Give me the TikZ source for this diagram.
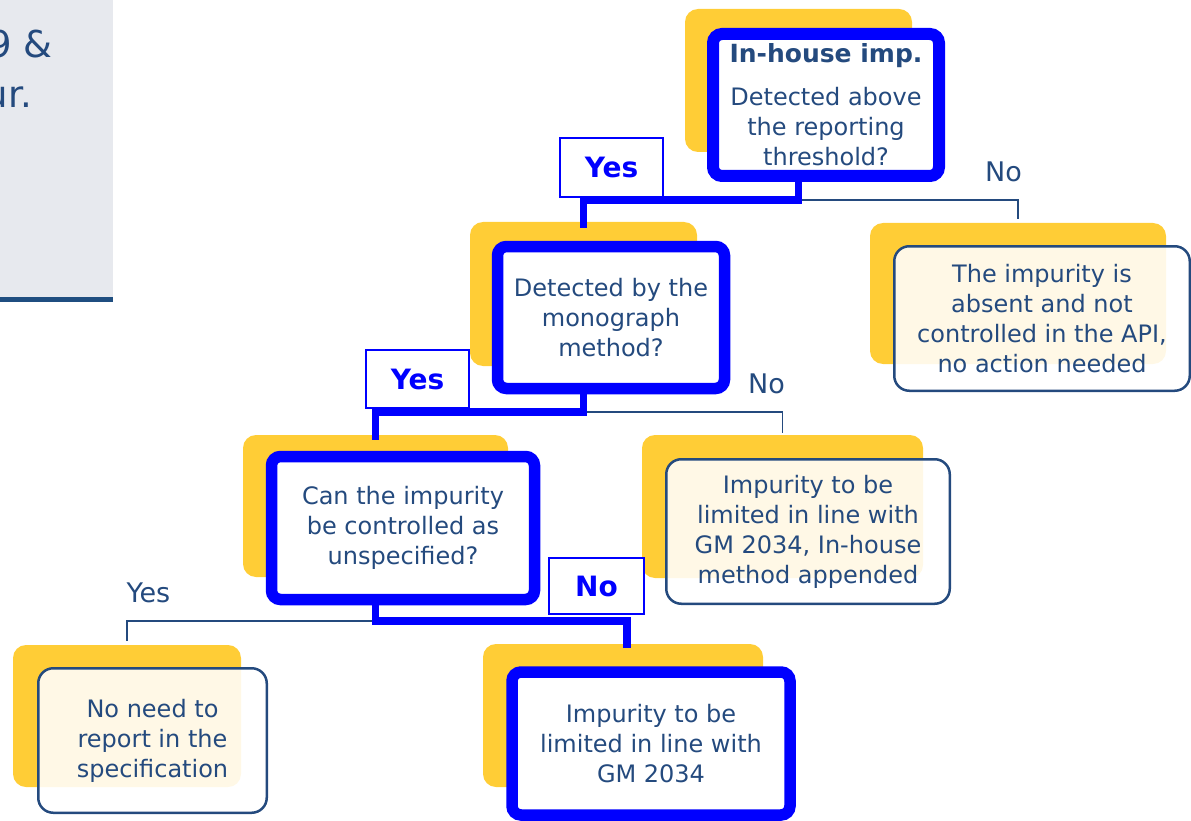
\documentclass[tikz,border=0pt]{standalone}
\usepackage{fontspec}
\setmainfont{DejaVu Sans}
\usetikzlibrary{calc}

\definecolor{ink}{RGB}{36,74,126}
\definecolor{hlblue}{RGB}{0,0,255}
\definecolor{gold}{RGB}{255,205,54}
\definecolor{panel}{RGB}{231,233,238}
\definecolor{rulecol}{RGB}{31,78,128}

\tikzset{
  back/.style={fill=gold, rounded corners=13pt, inner sep=0pt, outer sep=0pt},
  qbox/.style={draw=hlblue, line width=11.5pt, fill=white, rounded corners=9pt,
    inner sep=0pt, outer sep=0pt, align=center, text=ink,
    font=\fontsize{24}{30}\selectfont},
  abox/.style={draw=ink, line width=2.5pt, fill=white, fill opacity=0.88,
    text opacity=1, draw opacity=1, rounded corners=15pt, inner sep=0pt,
    outer sep=0pt, align=center, text=ink, font=\fontsize{24}{30}\selectfont},
  tag/.style={draw=hlblue, line width=1.5pt, fill=white, inner sep=0pt,
    text=hlblue, font=\fontsize{28}{30}\selectfont\bfseries},
  plainlabel/.style={text=ink, font=\fontsize{27}{30}\selectfont, inner sep=0pt},
  mainline/.style={draw=hlblue, line width=7.5pt},
  sideline/.style={draw=ink, line width=1.8pt},
}

\begin{document}
\begin{tikzpicture}[x=1pt,y=-1pt]
\useasboundingbox (0,0) rectangle (1191,821);
\clip (0,0) rectangle (1191,821);

% side panel with its title, cut at the left edge
\fill[panel] (0,0) rectangle (113,297);
\draw[rulecol, line width=5pt] (0,299.5) -- (113,299.5);
\node[anchor=base east, inner sep=0pt, text=ink, font=\fontsize{37}{44}\selectfont] (h1) at (53,58) {9 \&};
\node[anchor=base east, inner sep=0pt, text=ink, font=\fontsize{37}{44}\selectfont] (h2) at (32,108) {ur.};

% yellow backing cards
\node[back, minimum width=227pt, minimum height=143pt] (y1) at (798.5,80.5) {};
\node[back, minimum width=296pt, minimum height=141pt] (y2) at (1018,293.5) {};
\node[back, minimum width=227pt, minimum height=144pt] (y3) at (583.5,294) {};
\node[back, minimum width=265pt, minimum height=142pt] (y4) at (375.5,506) {};
\node[back, minimum width=281pt, minimum height=143pt] (y5) at (782.5,506.5) {};
\node[back, minimum width=228pt, minimum height=142pt] (y6) at (127,716) {};
\node[back, minimum width=280pt, minimum height=143pt] (y7) at (623,715.5) {};

% branch points
\coordinate (s1) at ($(y1.south)+(0,48)$);
\coordinate (s2) at ($(y3.south)+(0,46)$);
\coordinate (s3) at ($(y4.south)+(0,44)$);

% connectors: highlighted path and the other branches
\draw[sideline] (s1) -| ($(y2.north)+(0,-4)$);
\draw[mainline] (y1.south) -- (s1) -| ($(y3.north)+(0,6)$);
\draw[sideline] (s2) -| ($(y5.north)+(0,-2)$);
\draw[mainline] (y3.south) -- (s2) -| ($(y4.north)+(0,5)$);
\draw[sideline] (s3) -| ($(y6.north)+(0,-4)$);
\draw[mainline] (y4.south) -- (s3) -| ($(y7.north)+(4,4)$);

% decision and outcome cards
\node[qbox, line width=12pt, minimum width=226pt, minimum height=142pt] (q1) at (826,105)
  {{\fontsize{25}{30}\selectfont\bfseries In-house imp.}\\[13pt]Detected above\\the reporting\\threshold?};
\node[abox, minimum width=295.5pt, minimum height=144.5pt] (r2) at (1042,318.5)
  {The impurity is\\absent and not\\controlled in the API,\\no action needed};
\node[qbox, minimum width=227pt, minimum height=142pt] (q2) at (611,317.5)
  {Detected by the\\monograph\\method?};
\node[qbox, minimum width=263pt, minimum height=143pt] (q3) at (403,528)
  {Can the impurity\\be controlled as\\unspecified?};
\node[abox, minimum width=283.5pt, minimum height=144.5pt] (r5) at (808,531.5)
  {Impurity to be\\limited in line with\\GM 2034, In-house\\method appended};
\node[abox, minimum width=228.5pt, minimum height=144.5pt] (r6) at (152.5,740.5)
  {No need to\\report in the\\specification};
\node[qbox, minimum width=278pt, minimum height=143pt] (r7) at (651,743.5)
  {Impurity to be\\limited in line with\\GM 2034};

% branch labels
\node[tag, minimum width=103pt, minimum height=59pt] (t1) at (611.5,167.5) {Yes};
\node[tag, minimum width=103pt, minimum height=58pt] (t2) at (417.5,379) {Yes};
\node[tag, minimum width=95pt, minimum height=56pt] (t3) at (596.5,586) {No};
\node[plainlabel] (n1) at (1003.5,172) {No};
\node[plainlabel] (n2) at (766.5,384) {No};
\node[plainlabel] (n3) at (148.5,593) {Yes};
\end{tikzpicture}
\end{document}
